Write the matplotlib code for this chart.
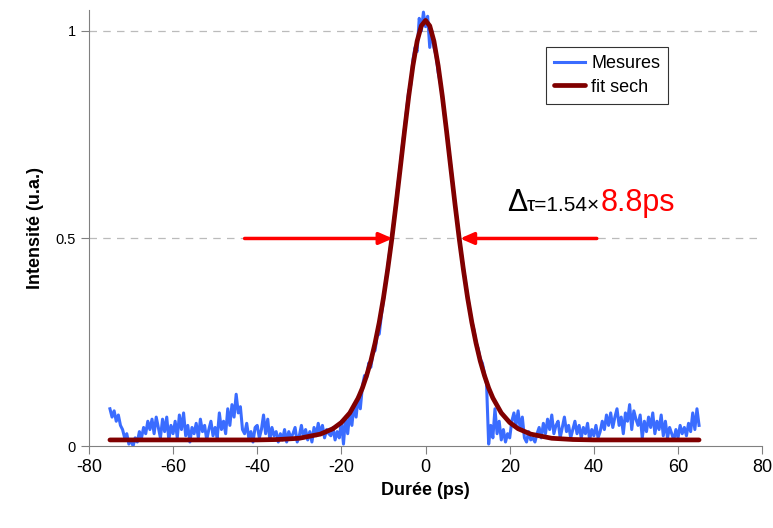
import matplotlib.pyplot as plt
from matplotlib.transforms import offset_copy
import numpy as np

plt.rcParams['font.family'] = ['Liberation Sans', 'DejaVu Sans']
plt.rcParams['axes.unicode_minus'] = False

# measured autocorrelation, sampled every 0.5 ps from -75 to 65 ps
mesures = [
    0.09, 0.07, 0.085, 0.06, 0.075, 0.05, 0.04, 0.02, 0.03, 0.005, 0.015,
    0.0, 0.02, 0.01, 0.035, 0.02, 0.045, 0.03, 0.06, 0.04, 0.065,
    0.03, 0.07, 0.045, 0.02, 0.065, 0.035, 0.07, 0.015, 0.05, 0.03,
    0.06, 0.02, 0.075, 0.04, 0.08, 0.025, 0.05, 0.01, 0.045, 0.03,
    0.055, 0.02, 0.065, 0.035, 0.05, 0.015, 0.04, 0.06, 0.025, 0.045,
    0.02, 0.08, 0.04, 0.06, 0.03, 0.09, 0.05, 0.1, 0.07, 0.125,
    0.08, 0.095, 0.04, 0.03, 0.055, 0.02, 0.035, 0.01, 0.045, 0.05,
    0.02, 0.04, 0.075, 0.03, 0.065, 0.015, 0.045, 0.025, 0.035, 0.01,
    0.03, 0.015, 0.04, 0.01, 0.035, 0.02, 0.03, 0.045, 0.01, 0.025,
    0.05, 0.02, 0.04, 0.015, 0.035, 0.01, 0.045, 0.025, 0.055, 0.03,
    0.05, 0.02, 0.04, 0.03, 0.025, 0.045, 0.015, 0.035, 0.02, 0.06,
    0.005, 0.07, 0.03, 0.08, 0.05, 0.1, 0.07, 0.12, 0.09, 0.145,
    0.17, 0.165, 0.2, 0.19, 0.225, 0.23, 0.265, 0.27, 0.315, 0.35,
    0.395, 0.43, 0.47, 0.505, 0.545, 0.59, 0.635, 0.675, 0.725, 0.765,
    0.81, 0.855, 0.87, 0.93, 0.96, 0.95, 1.03, 1.0, 1.045, 1.01,
    1.035, 0.96, 1.0, 0.96, 0.94, 0.9, 0.875, 0.84, 0.795, 0.76,
    0.715, 0.675, 0.63, 0.585, 0.545, 0.505, 0.465, 0.43, 0.395, 0.36,
    0.33, 0.3, 0.28, 0.25, 0.235, 0.21, 0.2, 0.175, 0.15, 0.005,
    0.05, 0.02, 0.09, 0.03, 0.06, 0.015, 0.04, 0.01, 0.03, 0.02,
    0.06, 0.08, 0.05, 0.085, 0.04, 0.07, 0.02, 0.01, 0.035, 0.015,
    0.02, 0.01, 0.03, 0.045, 0.02, 0.055, 0.03, 0.065, 0.04, 0.075,
    0.03, 0.05, 0.06, 0.02, 0.045, 0.07, 0.035, 0.05, 0.02, 0.04,
    0.06, 0.03, 0.05, 0.02, 0.045, 0.03, 0.055, 0.015, 0.04, 0.025,
    0.05, 0.02, 0.035, 0.06, 0.04, 0.075, 0.05, 0.08, 0.045, 0.07,
    0.09, 0.05, 0.07, 0.03, 0.08, 0.06, 0.1, 0.04, 0.085, 0.065,
    0.05, 0.075, 0.02, 0.06, 0.035, 0.07, 0.045, 0.08, 0.03, 0.06,
    0.04, 0.075, 0.025, 0.06, 0.02, 0.045, 0.03, 0.015, 0.04, 0.02,
    0.05, 0.03, 0.045, 0.025, 0.055, 0.035, 0.08, 0.04, 0.09, 0.05,
]
t_mesures = np.linspace(-75, 65, len(mesures))

# sech^2 fit
t_fit = [-75, -40, -35, -30, -25, -22, -20, -18, -16, -15, -14, -13, -12, -11,
         -10, -9, -8, -7, -6, -5, -4, -3, -2, -1, 0, 1, 2, 3, 4, 5, 6, 7, 8,
         9, 10, 11, 12, 13, 14, 15, 16, 18, 20, 22, 25, 30, 35, 40, 65]
fit = [0.015, 0.015, 0.016, 0.019, 0.029, 0.042, 0.057, 0.080, 0.116, 0.140,
       0.170, 0.205, 0.248, 0.298, 0.357, 0.425, 0.500, 0.583, 0.670, 0.758,
       0.842, 0.916, 0.975, 1.012, 1.025, 1.012, 0.975, 0.916, 0.842, 0.758,
       0.670, 0.583, 0.500, 0.425, 0.357, 0.298, 0.248, 0.205, 0.170, 0.140,
       0.116, 0.080, 0.057, 0.042, 0.029, 0.019, 0.016, 0.015, 0.015]

fig = plt.figure(figsize=(7.73, 5.28), dpi=100)
ax = fig.add_axes([0.115, 0.155, 0.871, 0.826])

ax.axhline(0.5, color='#bbbbbb', lw=0.9, ls=(0, (6, 5)), zorder=0)
ax.axhline(1.0, color='#bbbbbb', lw=0.9, ls=(0, (6, 5)), zorder=0)

ax.plot(t_mesures, mesures, color='#3a6cff', lw=2.2, label='Mesures')
ax.plot(t_fit, fit, color='#800000', lw=3.4, solid_capstyle='round', label='fit sech')

# FWHM arrows
ax.annotate('', xy=(-7.8, 0.5), xytext=(-43, 0.5),
            arrowprops=dict(arrowstyle='-|>,head_length=0.8,head_width=0.35',
                            color='#ff0000', lw=2.5, shrinkA=0, shrinkB=0))
ax.annotate('', xy=(8.2, 0.5), xytext=(40.7, 0.5),
            arrowprops=dict(arrowstyle='-|>,head_length=0.8,head_width=0.35',
                            color='#ff0000', lw=2.5, shrinkA=0, shrinkB=0))

# label built from three pieces placed one after the other
x0, y0 = 19.3, 0.565
t1 = ax.text(x0, y0, 'Δ', fontsize=22, va='baseline')
fig.canvas.draw()
w1 = t1.get_window_extent().width
t2 = ax.text(x0, y0, 'τ=1.54×', fontsize=15, va='baseline',
             transform=offset_copy(ax.transData, fig=fig, x=w1, y=0, units='dots'))
fig.canvas.draw()
w2 = t2.get_window_extent().width
ax.text(x0, y0, '8.8ps', fontsize=22, color='#ff0000', va='baseline',
        transform=offset_copy(ax.transData, fig=fig, x=w1 + w2, y=0, units='dots'))

ax.set_xlim(-80, 80)
ax.set_ylim(0, 1.05)
ax.set_xticks([-80, -60, -40, -20, 0, 20, 40, 60, 80])
ax.set_yticks([0, 0.5, 1])
ax.set_yticklabels(['0', '0.5', '1'])
ax.tick_params(axis='x', labelsize=13, direction='out', length=6, color='#808080')
ax.tick_params(axis='y', labelsize=10.5, direction='out', length=6, color='#808080')
for s in ['top', 'right']:
    ax.spines[s].set_visible(False)
for s in ['left', 'bottom']:
    ax.spines[s].set_color('#808080')

ax.set_xlabel('Durée (ps)', fontsize=13, fontweight='bold', labelpad=4)
ax.set_ylabel('Intensité (u.a.)', fontsize=13, fontweight='bold', labelpad=8)

leg = ax.legend(loc='upper left', bbox_to_anchor=(0.679, 0.915), fontsize=13,
                frameon=True, fancybox=False, edgecolor='black',
                handlelength=1.7, handletextpad=0.35, borderpad=0.45,
                labelspacing=0.35, borderaxespad=0)
leg.get_frame().set_linewidth(0.8)

plt.savefig('out.png', dpi=100)
